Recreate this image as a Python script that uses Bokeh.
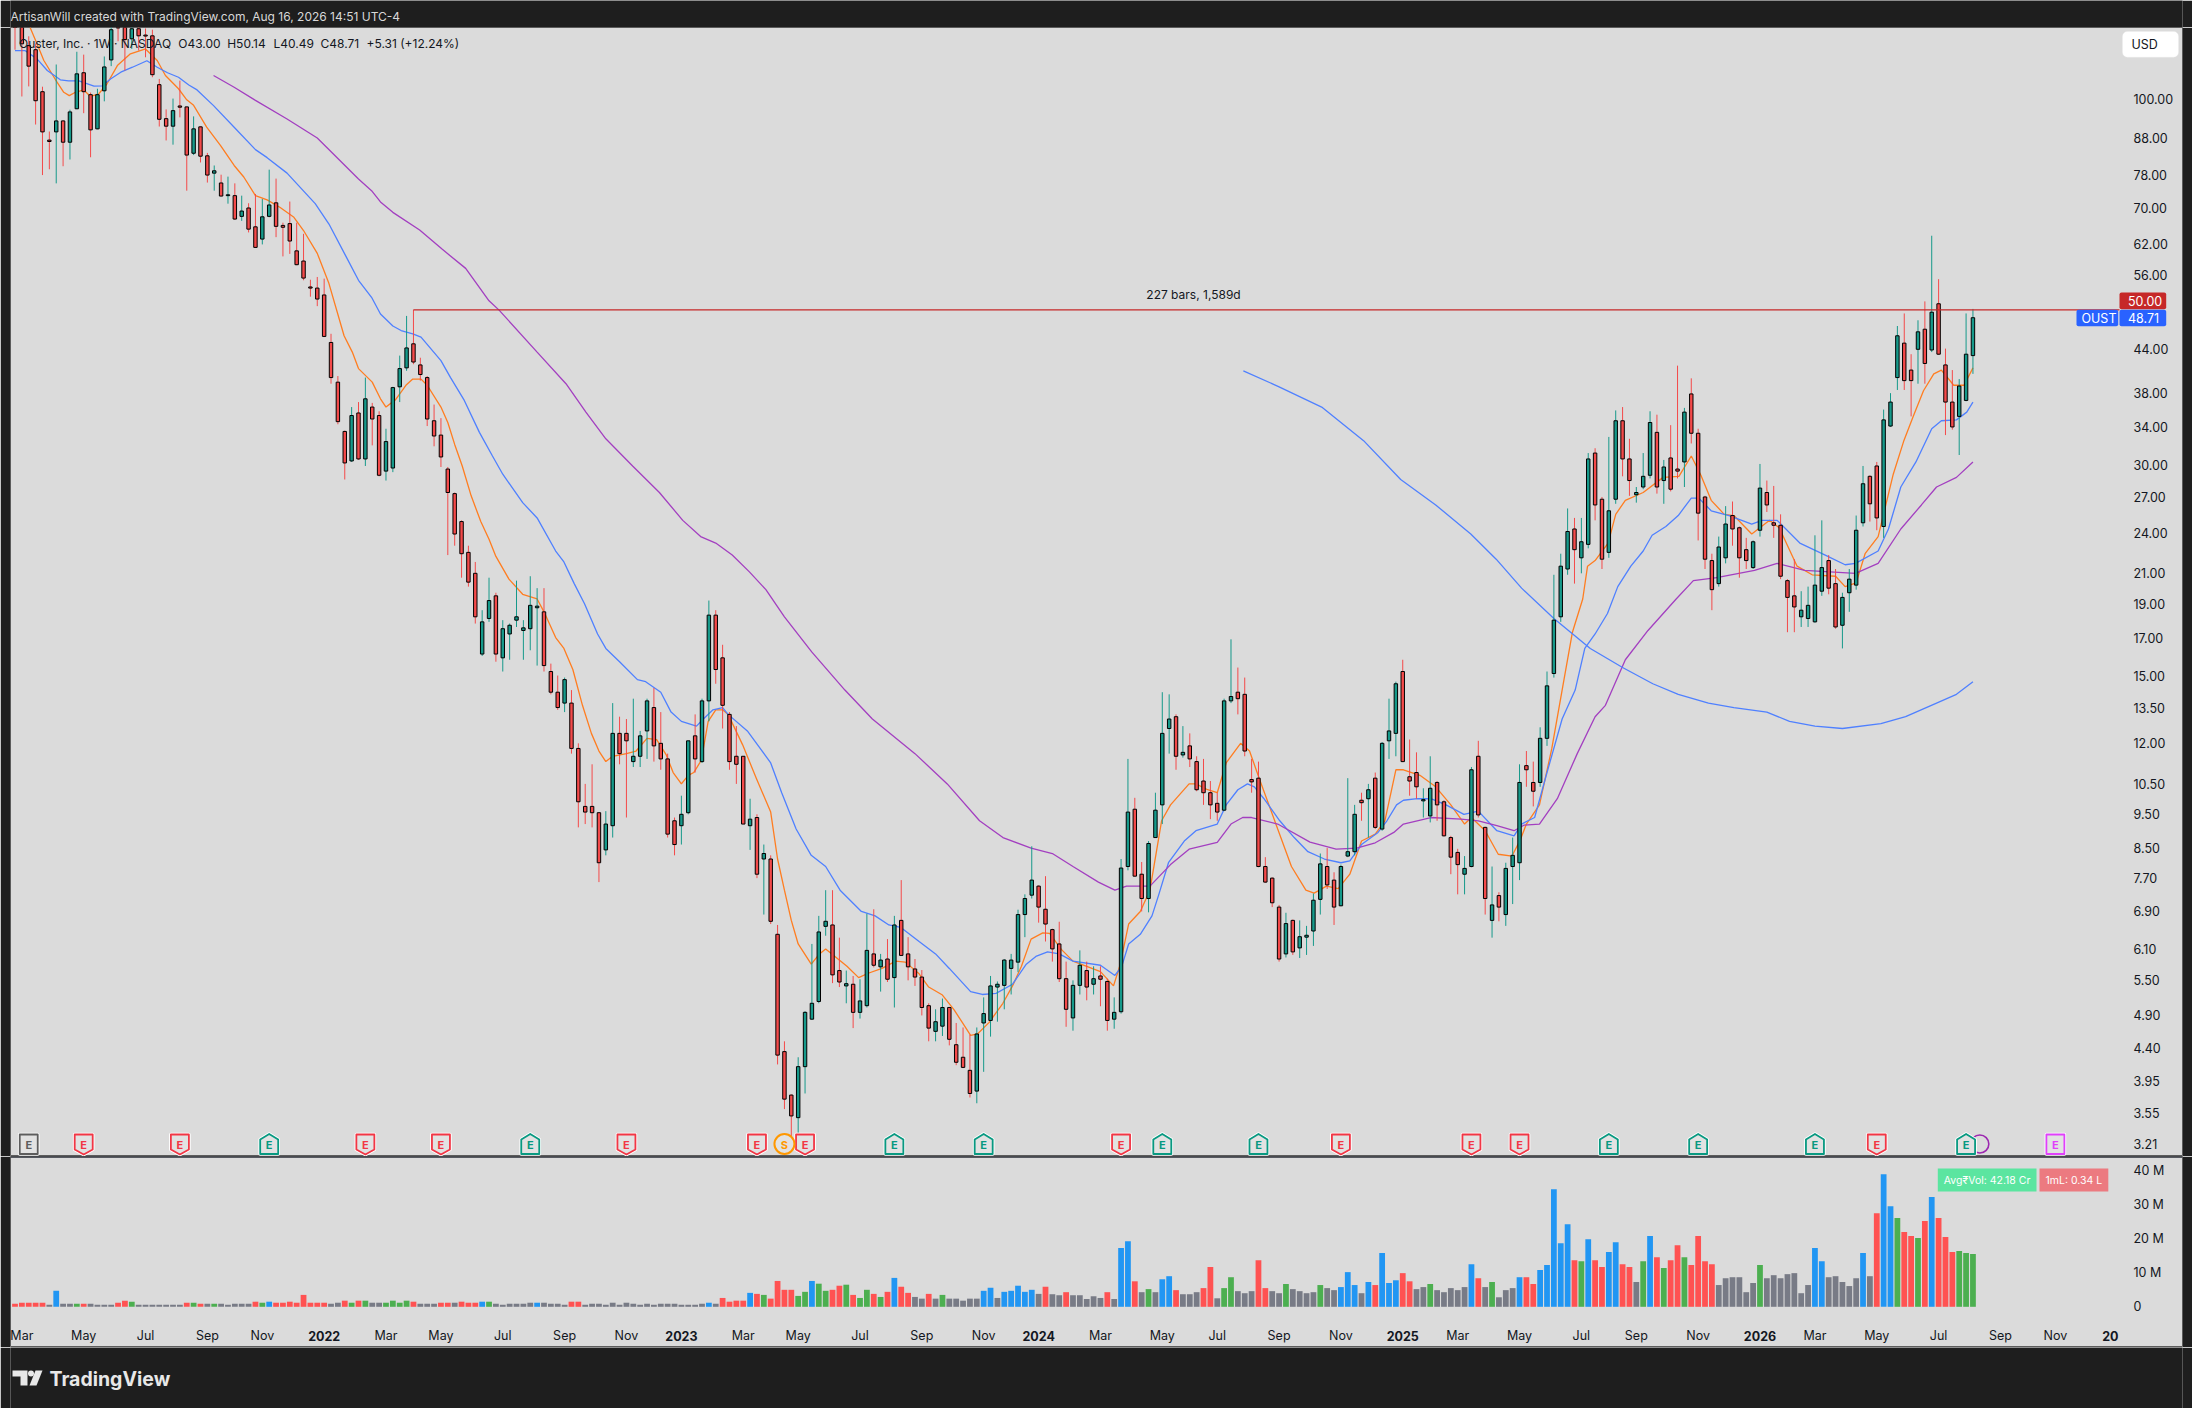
from math import exp
from bokeh.plotting import figure
from bokeh.layouts import column
from bokeh.models import (ColumnDataSource, Range1d, FixedTicker, NumeralTickFormatter,
                          Label, BoxAnnotation)
from bokeh.core.properties import value
from bokeh.embed import file_html
from bokeh.resources import INLINE

# ---- weekly candles, [open, high, low, close] ----
ohlc_2021 = [
[140,142,117.7,130],[132,135,100.9,120],[119.3,123,104.3,111.5],[117.7,120.1,92,99.5],[102.5,104.2,77.9,89.8],
[87.4,89.9,79.4,87],[89.8,112.1,75.8,93.1],[93.1,93.3,80.2,86.8],[86.8,96.6,82,95.9],[96.9,116.9,96.8,108.7],
[109.1,115.8,95.5,102.5],[101.5,102.2,82.6,90.4],[90.7,103.5,90.6,101.5],[102.8,115.1,99.3,111.2],[113.8,128,111.5,125.7],
[127,130,121,126.4],[129,132,109.9,121.7],[122,127,118,126.1],[126.1,127,117.4,123.2],[123.5,126.2,114.8,123.1],
[123.2,125.7,107.5,108.4],[104.9,106.9,91.4,93.6],[93.8,96.7,87.3,91.5],[91.5,100.2,86.1,96.3],[97.8,106.3,94.2,97.4],
[97.5,97.6,74,83.2],[83.7,94.5,83.2,90.7],[91.3,91.4,81.2,82.9],[83,83.8,76,77.9],[78.4,80.4,74,79],
[75.9,78,72.6,72.7],[72.8,77.5,70.9,73],[72.8,75.8,67.2,67.4],[68,72.8,67,69.2],[69.9,71,64.5,65.2],
[65.7,73.2,61.3,61.4],[63.1,72,62,67.9],[68,79.3,67.8,70.6],[71.1,77,63.5,65.8],[66,66.6,59.6,65.6],
[66.4,71.4,60.1,62.7],[60.7,66.6,57.9,58],[58.7,64.2,55.1,55.5],[53.9,55.2,52.2,53.7],[53.7,55.7,50.6,51.8],
]
ohlc_2022 = [
[52.5,55.4,45.7,45.8],[44.9,46.2,39.2,40],[39.4,40.2,34.3,34.6],[33.5,33.6,28.6,30.2],[30.4,36.3,30.3,35.3],
[35.6,36.9,30.5,30.6],[30.6,40,29.9,37.3],[36.3,36.8,32,34.9],[35.3,35.8,28.9,29],[29.4,33.8,28.5,32.4],
[29.7,38.8,29.3,38.7],[38.8,43,36.9,41.2],[41.3,49,40.9,44.1],[44.7,50,41.8,42.1],[41.7,42.7,39.6,40.4],
[40,40.2,34.1,34.9],[34.7,36.6,31.9,33],[33.1,35,29.8,30.8],[29.6,29.8,22.3,27.4],[27.3,27.4,23,23.9],
[24.9,25,20.7,22.4],[22.5,23,20.1,20.4],[21,21.8,17.8,18.2],[16.1,18.6,16,17.9],[18.1,20.7,17.9,19.2],
[19.5,19.7,15.7,16.1],[15.9,18,15.2,17.5],[17.2,17.8,15.8,17.7],[18,20.5,17.6,18.2],[17.4,18,15.8,17.55],
[17.5,20.8,16.3,18.9],[18.75,20,15.5,18.85],[18.5,20,15.2,15.5],[15.2,15.6,14.1,14.2],[14.2,15,13.4,13.5],
[13.7,14.9,13.3,14.8],[13.7,14.3,11.6,11.8],[11.8,12,9.1,9.9],[9.75,10.5,9.2,9.57],[9.75,11.2,9.1,9.55],
[9.55,9.56,7.6,8.1],[8.45,9.6,8.3,9.2],[9.15,13.7,8.8,12.4],[12.4,13.1,11.2,11.6],[12.4,13,9.4,12.1],
[11.3,13.9,11.1,11.5],[11.5,12.5,11.1,12.3],[12.5,13.9,11.4,13.8],[13.5,14.4,11.3,11.9],[12,13.3,11,11.4],
[11.4,11.6,8.8,8.9],[9.3,9.4,8.3,8.6],
]
ohlc_2023 = [
[9.15,10.1,8.6,9.5],[9.55,12.1,9.5,12.1],[12.3,13.2,10.9,11.4],[11.3,13.9,11.25,13.8],[13.8,19.2,12.9,18.3],
[18.3,18.6,14.6,15.3],[15.9,16.6,12.6,13.6],[13.2,13.3,11,11.3],[11.5,12.7,10.5,11.2],[11.5,11.5,9.2,9.2],
[9.15,10,8.45,9.35],[9.4,9.5,7.7,7.8],[8.2,8.6,6.83,8.35],[8.2,8.3,6.62,6.68],[6.4,6.6,4.17,4.3],
[4.35,4.5,3.6,3.72],[3.77,3.78,3.29,3.52],[3.5,4.27,3.33,4.14],[4.14,4.97,3.79,4.95],[4.84,6.2,4.83,5.1],
[5.13,6.8,5.1,6.45],[6.57,7.4,6.37,6.68],[6.6,7.4,5.45,5.6],[5.68,6.33,5.38,5.47],[5.4,5.68,5.1,5.44],
[5.43,5.58,4.7,4.95],[4.95,5.52,4.85,5.14],[5.06,6.85,5.03,6.07],[6,6.95,5.74,5.78],[5.75,6,5.3,5.88],
[5.9,6.3,5.47,5.52],[5.55,6.8,5.03,6.6],[6.7,7.65,5.96,5.97],[6,6.34,5.5,5.75],[5.71,5.9,5.4,5.56],
[5.56,5.69,4.9,5.03],[5.06,5.1,4.5,4.7],[4.65,5,4.5,4.8],[4.73,5.18,4.58,5.03],[5.03,5.04,4.44,4.53],
[4.45,4.78,4.16,4.2],[4.27,4.71,4.12,4.13],[4.09,4.6,3.74,3.79],[3.82,4.71,3.67,4.61],[4.78,5.2,4.07,4.93],
[4.82,5.58,4.57,5.4],[5.38,5.48,4.8,5.43],[5.41,5.9,5,5.88],[5.72,6,5.25,5.88],[5.84,6.94,5.65,6.83],
[6.83,7.3,6.34,7.2],[7.28,8.55,7.2,7.65],
]
ohlc_2024 = [
[7.5,7.52,6.65,7],[6.95,7.75,6.25,6.62],[6.5,6.52,5.85,6.1],[6.2,6.67,5.47,5.53],[5.53,5.85,4.72,5],
[4.86,5.5,4.66,5.41],[5.41,6.07,5.25,5.78],[5.68,5.85,5.15,5.38],[5.43,5.76,5.25,5.53],[5.58,5.76,5.05,5.52],
[5.48,5.53,4.66,4.82],[4.84,5.2,4.69,4.95],[4.96,8.2,4.93,7.96],[8,11.4,7.9,9.57],[9.66,10.03,7.74,7.75],
[7.8,8.12,6.9,7.2],[7.2,8.7,6.88,8.63],[8.8,10.2,8.79,9.63],[9.8,14.2,9.2,12.4],[12.6,14.1,11.6,13],
[13.1,13.2,11,11.5],[11.55,12.7,11.45,11.65],[11.9,12.4,11.1,11.4],[11.3,11.5,10.25,10.3],[10.6,11.4,9.8,10.2],
[10.2,10.6,9.35,9.8],[9.85,10.2,9.3,9.57],[9.63,13.9,9.6,13.8],[13.8,16.9,13.7,14],[14.2,15.4,13.2,13.9],
[14.1,14.9,11.5,11.7],[10.65,11.4,10.2,10.57],[10.7,11.3,7.98,8.0],[8.0,8.25,7.58,7.6],[7.7,7.72,7,7.1],
[7,7.05,5.85,5.9],[6,6.87,5.93,6.63],[6.7,6.72,5.98,6.04],[6.12,6.7,5.92,6.35],[6.34,6.58,5.98,6.38],
[6.47,7.32,6.16,7.16],[7.18,8.35,6.83,8.07],[8,8.5,7.43,7.53],[7.65,7.85,6.6,7],[7.03,8.05,7.02,8],
[8.28,10.7,8.25,8.4],[8.4,9.8,8.3,9.5],[9.95,10.2,9.3,9.87],[10,10.5,8.8,10.3],[10.7,10.9,9.05,9.1],
[9.05,12.05,9,12],[12.1,13.9,11.4,12.5],
]
ohlc_2025 = [
[12.4,14.7,11.5,14.6],[15.2,15.8,11.28,11.3],[10.75,12.15,10.1,10.6],[10.9,11.65,10,10.4],[9.93,10.35,9.4,9.97],
[9.45,11.5,9.25,10.35],[10.55,10.6,9.3,9.8],[9.9,9.95,8.83,8.85],[8.8,8.85,7.8,8.25],[8.38,8.48,7.3,8.05],
[7.8,8.28,7.3,7.95],[8,11.1,7.98,11],[11.5,12.1,9.4,9.48],[9.1,9.12,6.83,7.2],[6.7,8,6.33,7.05],
[7.27,7.35,6.68,7],[6.83,8.1,6.58,7.95],[8,8.8,7.07,8.3],[8.1,11.2,7.65,10.55],[11.15,11.7,10.4,11],
[10.55,11.3,9.75,10.25],[10.55,12.65,10.4,12.2],[12.2,15.2,11.9,14.5],[15.1,20.9,14.9,18],[18.2,22.4,17.9,21.5],
[21.3,26,20.9,24.1],[24.3,25.2,20.3,22.7],[22.1,25.2,21,23.3],[23.1,31.2,22.8,30.6],[31.2,31.7,25,26.3],
[26.8,27,21.3,22],[22.5,32.9,22.1,25.8],[26.8,35.9,26.4,34.7],[34.7,36.3,28.9,30.6],[30.6,32.7,27.1,28.5],
[27.2,27.9,26.5,27.4],[27.9,31.2,27.7,28.9],[29,35.8,28.7,34.5],[33.4,35.4,27.3,27.9],[28.5,30.5,26.4,29.8],
[30.7,34.2,27.5,27.7],[29.6,41.6,28.7,29.4],[30.3,36.2,27.9,35.7],[37.9,39.9,32.2,33.3],[33.3,33.8,23.4,25.6],
[27,27.1,21.3,22],[21.9,22.4,18.6,19.9],[20.3,23.7,20.1,22.9],[22.1,26.2,21.7,24.7],[25.4,26.6,23,24.3],
[24.4,24.5,20.7,22.1],[22.7,23.6,21.3,21.9],
]
ohlc_2026 = [
[21.4,23.4,21.3,23.3],[24.2,30.1,23.7,27.8],[27.4,28.5,25.7,26.3],[24.8,28,23.6,24.6],[24.6,25.5,20.6,20.8],
[20.5,20.6,17.3,19.4],[19.5,22,17.3,18.8],[18.2,19.8,17.6,18.6],[18.1,20.1,17.6,18.9],[17.9,23.8,17.85,20.2],
[19.8,25,19.5,21.4],[21.9,22.3,19.6,20],[20.3,21.3,17.5,17.6],[17.7,19.7,16.4,19.4],[19.7,21.3,18.5,20.6],
[20.2,25.4,19.9,24.2],[24.8,29.9,24.5,28.2],[28.9,29,24.9,26.4],[29.9,30.3,24.2,25.2],[24.5,36,23.6,34.8],
[34.1,38,34,36.9],[40,47.4,38.4,45.9],[44.8,49.4,38.4,39.6],[41,43.2,35.2,39.6],[43.9,48.3,39.2,46.5],
[46.9,51.4,39.2,41.9],[43.8,63.8,43.5,49.6],[51,55.3,43.1,43.2],[41.7,44,33.1,36.9],[36.9,41,33.7,34],
[35.2,39.8,31,38.9],[37.1,49.4,37,43.2],[43.00,50.14,40.49,48.71],
]

# ---- moving averages: bar number and price ----
orange_idx = [2.2,3.2,4.2,5.9,7.1,7.9,8.8,10,11,12.2,13.4,14.9,16.8,19,20.7,21.9,23.8,25,26,27.9,29.9,31.9,33.3,35,36.7,38.6,40.6,42,44,45.7,47.9,49.1,50,52,53.2,54,55.4,56.9,57.9,59.1,60,62,63,64,65.1,66.4,67.8,69,70,71.9,73.9,76,77,78.7,79.9,81.2,82.6,83.9,85,86,87,89,90.4,92,93.4,94.8,95.8,97,98,98.8,99.9,100.9,102,103,103.8,105.9,107.9,110,111,112,113,114,115.9,117.1,118,119.8,121.1,122.8,124.2,126.2,128.2,129.6,131.6,133,135,136.7,138,139.1,140.1,141.8,143.8,145.2,146.5,147.9,149.6,150.6,152.3,154,156,158,159.9,160.8,162.1,163.8,165.2,166.9,168.2,170.9,171.9,173.6,175,176.3,178.4,179.7,181.1,183.8,185.8,187.9,189.1,190.9,192.6,194.3,196,198,199.4,201,202.1,204.5,206.8,209,211,212,214,215.9,217.9,219.1,220,221.9,223.7,225.2,226.7,228.2,228.9,230,231.9,233,234.4,237,239.9,242.2,244,245.4,246.9,248.8,250.2,252.8,255.4,256.8,259.4,261.6,265,266.4,268,269.3,271.2,273.4,274.9,276.3,277.8,279.3,280.4,282.2,283.7,285]
orange_val = [126.6,120,113.6,106.6,102.3,101.2,102.3,103.1,100.9,101.8,105.2,111.7,116.1,118,113.6,108.1,103.5,99.8,98,91.2,85.9,80.4,77.4,72.8,71.8,70,67.8,64.9,60.2,54.5,45.9,43.5,41.2,39.4,37.3,36.3,37.2,39,39.8,39.8,39,36.3,34.5,32.1,29.9,27.1,24.9,23.5,22.2,20.6,19.6,19.3,18.5,17,16.4,15.3,13.6,12.4,11.7,11.3,11.5,11.6,11.7,12.2,12.15,11.55,10.9,10.5,10.8,10.9,11.35,12.9,13.4,13.4,13.2,11.95,10.7,9.57,8.2,7.4,6.7,6.2,5.8,6.0,6.1,5.9,5.76,5.55,5.63,5.72,5.86,5.84,5.62,5.38,5.24,4.99,4.77,4.59,4.61,4.79,5.1,5.4,5.76,6.3,6.43,6.42,6.09,5.86,5.76,5.66,5.4,5.76,6.62,6.9,7.4,9.3,9.8,10.5,10.5,10.3,10.2,11.25,12.0,11.7,10.7,9.05,8.0,7.4,7.33,7.5,7.44,7.8,8.7,8.9,9.3,11.0,11.0,10.8,10.4,9.8,9.2,9.4,9.0,8.33,8.28,8.73,9.2,9.8,11.8,14.3,17.3,19.3,21.5,21.9,23.2,25.5,26.7,27.4,28.8,28.9,30.9,29,26.7,25.5,25.4,23.9,25,24.4,21.5,20.9,20.8,20.1,20.35,22.4,23.7,29.1,32.4,35.2,38.3,40.5,41,39,39,41.3]

blue_idx = [0,1.5,3.2,4.7,6.6,7.8,9.3,11.5,12.7,13.9,15.4,17.1,19.2,20.7,22.2,23.8,25.3,26.5,28.9,31.9,35,36.7,39.6,43.7,45.7,48.1,50,51.9,53.2,55,56.2,57.9,59.1,62,63.4,65.4,67.6,69.5,71,73.9,76,78.7,79.9,81.4,82.9,84.8,86,88,90.6,91.8,94,95.5,97,99.2,100.2,101.6,103,103.8,106.6,108.2,110,111.6,113.7,115.9,118,120.1,123.2,125.2,127.2,128.9,131.6,134,136,139.1,140.8,142.8,145.2,147.2,148.6,150.3,152,154,158,160.1,161.1,162.1,163.8,165.5,166.5,167.9,170.2,171.9,175,176.3,178,179.4,180.4,181.8,184.1,186.2,188.2,190.6,193,194.3,196,198.4,199.7,201.1,202.1,204.1,206.1,208.3,210.9,213,215.7,218.2,219.3,221.2,223,225.2,227.1,228.5,230,231.8,233.3,235.2,237,238.3,240.3,242.1,244,245.1,246.9,249.5,252.8,254.3,256.5,259.8,263.5,266.4,267.9,271.2,272.7,274.5,276.7,279,280.4,282.6,284.1,285]
blue_val = [117.3,117.3,114.2,109.9,106.6,106.2,106.2,104.4,104.5,106.9,109.3,111.1,113.5,111.1,109.1,107.5,104.8,103.1,97.9,91.2,84.7,82.5,78.4,70.9,66.3,59.8,55.1,52.1,49.3,47.4,46.7,46.2,45.7,42.3,40,37.1,33.4,30.9,29.1,26.5,25.2,22.6,21.8,20.3,19,17.2,16.4,15.7,14.8,14.7,14.2,13.3,12.9,12.7,13,13.4,13.5,13.2,12.5,11.9,11.25,10.2,9.05,8.3,8.0,7.4,6.9,6.8,6.6,6.55,6.25,6.0,5.72,5.3,5.25,5.27,5.43,5.8,5.95,6.04,6.0,5.86,5.78,5.59,5.76,6.2,6.4,6.8,7.3,8.1,8.7,9.0,9.2,9.8,10.3,10.5,10.4,10,9.3,8.8,8.4,8.2,8.1,8.15,8.6,8.95,9.3,9.8,9.95,10.0,10.0,9.8,9.5,9.6,9.0,8.85,9.2,9.4,10.9,13.0,14.3,16.4,17.2,18.4,20.1,21.5,22.6,23.8,24.5,25.4,26.9,26.9,25.8,25.4,24.7,25.0,25,23.2,22.3,21.6,21.7,22.6,24.3,27.9,30.3,33.8,34.7,34.8,35.7,36.9]

purple_idx = [28.9,31.9,35,39.6,44,50,51.9,53.2,55,58.9,62.2,65.6,69,70.5,76,80.2,83.1,86,89.9,93.8,97.2,99.8,102,104.4,106.9,109.3,112,116,120.8,124.8,131,135.7,140.4,143.8,147.9,151,154,157.7,160.1,161.8,165.2,168.2,170.9,175,177,178.7,180,183.8,188.5,192.3,195.3,198,200.7,202.1,206.1,210.5,213,215.7,218.2,219.7,221.9,224.5,227.4,230,231.5,234.4,237.7,241.8,244.3,247.7,253.2,256.5,260.5,264.2,267.9,271.2,274.5,277.5,279.7,282.6,285]
purple_val = [108.1,104,99.6,93.7,88,76.9,74,71.3,68.9,65,61,57.3,51.5,49.9,43.5,39.2,35.7,32.7,29.9,27.4,25,23.7,23.2,22.3,21.1,19.9,18.2,16.2,14.3,13,11.6,10.5,9.3,8.8,8.5,8.35,8.0,7.6,7.4,7.5,7.5,8.05,8.47,8.66,9.2,9.4,9.4,9.2,8.67,8.47,8.5,8.65,8.95,9.2,9.4,9.35,9.3,9.15,9.0,9.17,9.2,10,11.6,13.1,13.6,15.8,17.4,19.3,20.5,20.7,21.2,21.7,21.2,21.1,21,21.7,24.3,26.3,27.9,28.8,30.3]

long_idx = [178.8,184,190.2,196.3,201.7,206.8,211.9,215.6,219.3,224,229.3,234,238.4,242.1,246.5,250.2,255,258.3,262,266,271.6,275.2,279.7,282.6,285]
long_val = [40.9,38.8,36.3,32.5,28.6,26.3,23.9,22,20,18.1,16.4,15.4,14.6,14.1,13.7,13.5,13.3,12.9,12.7,12.6,12.8,13.1,13.7,14.1,14.7]

# ---- volume in millions, colour code per bar (r g b k) ----
vol_a = [.9,1.2,1.2,1.2,1.2,.6,4.7,.9,.9,.9,.9,.9,.6,.6,.6,1.2,1.8,1.5,.6,.6,.6,.6,.6,.6,.6,1.2,1.2,.9,.9,.9,.9,.6,.9,.9,.9,1.5,1.2,1.5,1.2,1.2,1.5,1.2,3.5,1.2,1.2,1.2,.9,1.2,1.8,1.2]
col_a = "rrrrrkbkkg" "rkkkkrrgkk" "kkkkkrgrkg" "kkkkkrgbrr" "rrrrrrkkrg"
vol_b = [1.8,1.8,1.2,1.2,1.2,1.8,1.2,1.8,1.5,.9,.9,.9,1.2,1.2,1.2,1.5,1.2,1.2,1.5,1.5,.9,.6,.9,.9,.9,1.2,1.2,1.2,.9,.9,.6,1.5,1.5,.6,.9,.9,.6,1.2,.6,1.2,.9,.6,.9,.6,.9,.9,.9,.6,.6,.6]
col_b = "rgkkggggrk" "kkrrkrrrbg" "kkkkkkbkkk" "krrkkkkkkk" "kkkkkkkkkk"
vol_c = [.9,1.2,.9,2.6,1.5,1.8,1.8,4.1,3.8,3.5,2.4,7.6,5,5,3.2,4.4,7.6,6.8,4.7,5,6.2,6.5,3.5,2.6,5,3.8,2.9,4.4,8.5,5.9,4.1,2.9,2.4,3.8,2.4,3.5,2.4,2.4,1.8,2.4,2.4,4.7,5.6,2.6,4.4,4.7,6.2,4.4,5,3.8]
col_c = "kbkrrrrbrg" "rrrrggbggr" "rgrggrgrbr" "rkkrkgkkkk" "kbbkbbbbbk"
vol_d = [5.9,3.7,3.4,4.3,3.4,3.4,2.3,3.1,2.6,4.3,2.3,17.3,19.3,7.5,4.3,5.2,4.3,8.1,9,4.9,3.7,3.7,4.3,5.5,11.7,2.5,5.5,8.7,4.6,4,4.6,13.7,5.5,4.6,4,6.7,5.2,4.6,4,4.3,6.4,5.5,4.9,5.8,10.2,6.4,4,7.3,6.4,15.8]
col_d = "rkkrkkkkkr" "kbbrkgkbbr" "kkkrrkggkk" "krrkkgkkkk" "gkkbbbkbrb"
vol_e = [7,7.8,9.9,7.5,5.2,5.8,6.7,4.9,4.3,5.5,4.9,5.8,12.5,8.4,5.8,7.3,2.8,4.9,5.5,8.7,8.7,6.7,10.8,12.3,34.6,18.7,24.3,13.7,13.4,19.9,13.7,11.7,16.1,19,12.5,11.7,7.3,13.4,20.8,14.6,11.4,13.7,18.1,14.6,12.3,20.8,13.4,12.5,6.4,8.4]
col_e = "bbrrkkgkkk" "kkbrkgkkkb" "rrbbbbbrgb" "rrbbrrkgbr" "grrgrrrrkk"
vol_f = [8.7,8.7,4.3,7,12.3,8.4,9.3,8.4,9.6,9.9,4,6.4,17.3,13.4,8.7,9,7.3,6.1,8.4,15.8,9,27.5,39,29.6,26.1,22,20.8,20.2,25.2,32.3,26.1,20.5,16.1,16.4,15.8,15.5]
col_f = "kkkkgkkkkk" "kkbbkkkkkb" "krbbgrrgrb" "rrrggg"

# ---- axes ----
price_ticks = [100,88,78,70,62,56,44,38,34,30,27,24,21,19,17,15,13.5,12,10.5,9.5,8.5,7.7,6.9,6.1,5.5,4.9,4.4,3.95,3.55,3.21]
volume_ticks = {0:"0",10:"10 M",20:"20 M",30:"30 M",40:"40 M"}
month_ticks = {1:"Mar",10:"May",19:"Jul",28:"Sep",36:"Nov",54:"Mar",62:"May",71:"Jul",80:"Sep",89:"Nov",
               106:"Mar",114:"May",123:"Jul",132:"Sep",141:"Nov",158:"Mar",167:"May",175:"Jul",184:"Sep",193:"Nov",
               210:"Mar",219:"May",228:"Jul",236:"Sep",245:"Nov",262:"Mar",271:"May",280:"Jul",289:"Sep",297:"Nov"}
year_ticks = {45:"2022",97:"2023",149:"2024",202:"2025",254:"2026",305:"20"}

# ---- event flags: bar number and kind ----
earn_down = [10,24,51,62,89,108,115,161,193,212,219,271]
earn_up = [37,75,128,141,167,181,232,245,262,284]
earn_grey = [2]
split_bar = [112]
future_bar = [297]
dividend_bar = [286]

# ---- legend line pieces ----
legend_name = "Ouster, Inc. \u00b7 1W \u00b7 NASDAQ"
legend_open = "O43.00"
legend_high = "H50.14"
legend_low = "L40.49"
legend_close = "C48.71"
legend_change = "+5.31 (+12.24%)"

# ---- colours ----
BG, PANE = "#1e1e1e", "#dbdbdb"
UP, DOWN = "#16998a", "#f44a4a"
VOLC = {"r":"#ff5252","g":"#4caf50","b":"#2196f3","k":"#787b86"}
FONT = "Inter"

rows = ohlc_2021 + ohlc_2022 + ohlc_2023 + ohlc_2024 + ohlc_2025 + ohlc_2026
n = len(rows)
vols = vol_a + vol_b + vol_c + vol_d + vol_e + vol_f
vcols = col_a + col_b + col_c + col_d + col_e + col_f

# calibration of the two scales against window pixels (chrome placement only)
BAR0, STEP = 14.5, 6.87
P100Y, PX_LN = 98.7, 303.8
def X(px): return (px - BAR0) / STEP
def Y(py): return 100 * exp((P100Y - py) / PX_LN)
VBASE, VPX = 1306.3, 3.4
def V(py): return (VBASE - py) / VPX

# ---- header strip (its frame lines up with the panes: 10..2182) ----
h = figure(width=2192, height=27, x_range=Range1d(10, 2182), y_range=Range1d(27, 0), x_axis_location=None,
           y_axis_location=None, output_backend="svg", toolbar_location=None, min_border=0,
           background_fill_color=BG, border_fill_color=BG, outline_line_color=None)
h.grid.visible = False
h.text([10], [15.5], text=["ArtisanWill created with TradingView.com, Aug 16, 2026 14:51 UTC-4"], text_font=value(FONT),
       text_font_size="12px", text_color="#d8d8d8", text_baseline="middle")

# ---- price pane ----
xr = Range1d(X(10), X(2182))
p = figure(width=2192, height=1129, frame_width=2172, frame_height=1129, x_range=xr,
           y_range=Range1d(Y(1156), Y(27)), y_axis_type="log", y_axis_location="right",
           x_axis_location=None, output_backend="svg", toolbar_location=None,
           min_border_left=10, min_border_right=10, min_border_top=0, min_border_bottom=0,
           background_fill_color=PANE, border_fill_color=BG, outline_line_color="#5c5c5c")
p.grid.visible = False
ax = p.yaxis[0]
ax.ticker = FixedTicker(ticks=price_ticks)
ax.formatter = NumeralTickFormatter(format="0.00")
ax.axis_line_color = None
ax.major_tick_line_color = None
ax.minor_tick_line_color = None
ax.major_label_standoff = -55
ax.major_label_text_font = FONT
ax.major_label_text_font_size = "12.5px"
ax.major_label_text_color = "#131722"

p.line(orange_idx, orange_val, line_color="#ff7d20", line_width=1.3)
p.line(blue_idx, blue_val, line_color="#4f80ff", line_width=1.3)
p.line(purple_idx, purple_val, line_color="#a33fc0", line_width=1.3)
p.line(long_idx, long_val, line_color="#4f80ff", line_width=1.3)

src = ColumnDataSource(dict(
    x=list(range(n)),
    o=[r[0] for r in rows], h=[r[1] for r in rows], l=[r[2] for r in rows], c=[r[3] for r in rows],
    top=[max(r[0], r[3]) for r in rows], bot=[min(r[0], r[3]) for r in rows],
    col=[UP if r[3] >= r[0] else DOWN for r in rows]))
p.segment("x", "h", "x", "l", source=src, line_color="col", line_width=1)
p.vbar("x", 0.5, "top", "bot", source=src, fill_color="col", line_color="#000000", line_width=1.0)

# measured range line
p.segment([58], [50], [X(2119)], [50], line_color="#c62828", line_width=1.2)
p.text([X(1193)], [Y(293.5)], text=["227 bars, 1,589d"], text_font=value(FONT), text_font_size="12px",
       text_color="#131722", text_align="center", text_baseline="middle")

# event flags
def flags(bars, kind, color):
    dx = 9 / STEP
    xs, ys = [], []
    for b in bars:
        if kind == "down":
            xs.append([b-dx, b+dx, b+dx, b, b-dx])
            ys.append([Y(1134), Y(1134), Y(1149), Y(1154), Y(1149)])
        elif kind == "up":
            xs.append([b-dx, b, b+dx, b+dx, b-dx])
            ys.append([Y(1139), Y(1133.5), Y(1139), Y(1153.5), Y(1153.5)])
        else:
            xs.append([b-dx, b+dx, b+dx, b-dx])
            ys.append([Y(1134), Y(1134), Y(1153.5), Y(1153.5)])
    p.patches(xs, ys, fill_color=None, line_color="#ffffff", line_width=3.6, line_join="round")
    p.patches(xs, ys, fill_color="#e2e2e2", line_color=color, line_width=1.8, line_join="round")
    p.text(bars, [Y(1144)]*len(bars), text=["E"]*len(bars), text_color=color, text_font=value(FONT),
           text_font_size="11px", text_font_style="bold", text_align="center", text_baseline="middle")

p.circle(dividend_bar, [Y(1143.5)], radius=9/STEP, fill_color=None, line_color="#9c27b0", line_width=1.6)
flags(earn_down, "down", "#f23645")
flags(earn_up, "up", "#089981")
flags(earn_grey, "box", "#5d5d5d")
flags(future_bar, "box", "#e040fb")
p.scatter(split_bar, [Y(1143.5)], size=20, marker="circle", fill_color="#e2e2e2", line_color="#ff9800", line_width=2)
p.text(split_bar, [Y(1144)], text=["S"], text_color="#ff9800", text_font=value(FONT), text_font_size="11px",
       text_font_style="bold", text_align="center", text_baseline="middle")

def label(fig, x, y, txt, color, size, align="left", style="normal", font=FONT):
    fig.add_layout(Label(x=x, y=y, text=txt, text_color=color, text_font=font, text_font_size=size,
                         text_align=align, text_baseline="middle", text_font_style=style))

for lx, txt in [(18.5, legend_name), (177.7, legend_open), (226.7, legend_high), (273, legend_low),
                (320, legend_close), (366, legend_change)]:
    label(p, X(lx), Y(42.5), txt, "#131722", "12px")

p.add_layout(BoxAnnotation(left=X(2122), right=X(2178), top=Y(31), bottom=Y(56.7), fill_color="#ffffff",
                           fill_alpha=1, line_color="#eeeeee", border_radius=5))
label(p, X(2131), Y(43.7), "USD", "#131722", "12.5px")
p.add_layout(BoxAnnotation(left=X(2119), right=X(2165.7), top=Y(292), bottom=Y(308.8), fill_color="#c62828",
                           fill_alpha=1, line_color=None, border_radius=2))
label(p, X(2127.5), Y(300.5), "50.00", "#ffffff", "12.5px")
p.add_layout(BoxAnnotation(left=X(2119), right=X(2165.7), top=Y(309.3), bottom=Y(325.7), fill_color="#2962ff",
                           fill_alpha=1, line_color=None, border_radius=2))
label(p, X(2127.5), Y(317.7), "48.71", "#ffffff", "12.5px")
p.add_layout(BoxAnnotation(left=X(2076), right=X(2117.7), top=Y(309.3), bottom=Y(325.7), fill_color="#2962ff",
                           fill_alpha=1, line_color=None, border_radius=2))
label(p, X(2081), Y(317.7), "OUST", "#ffffff", "12.5px")

# ---- volume pane ----
q = figure(width=2192, height=191, frame_width=2172, frame_height=191, x_range=xr,
           y_range=Range1d(V(1347), V(1156)), y_axis_location="right", output_backend="svg",
           toolbar_location=None, min_border_left=10, min_border_right=10, min_border_top=0, min_border_bottom=0,
           background_fill_color=PANE, border_fill_color=BG, outline_line_color="#5c5c5c")
q.grid.visible = False
q.vbar(list(range(n)), 0.84, vols, 0, fill_color=[VOLC[c] for c in vcols], line_color=None)
q.segment([X(10)], [V(1156.6)], [X(2182)], [V(1156.6)], line_color="#2a2e39", line_width=1.5)

ay = q.yaxis[0]
ay.ticker = FixedTicker(ticks=list(volume_ticks))
ay.major_label_overrides = volume_ticks
ay.axis_line_color = None
ay.major_tick_line_color = None
ay.minor_tick_line_color = None
ay.major_label_standoff = -55
ay.major_label_text_font = FONT
ay.major_label_text_font_size = "12.5px"
ay.major_label_text_color = "#131722"

am = q.xaxis[0]
am.ticker = FixedTicker(ticks=list(month_ticks))
am.major_label_overrides = month_ticks
am.axis_line_color = None
am.major_tick_line_color = None
am.minor_tick_line_color = None
am.major_label_standoff = -26
am.major_label_text_font = FONT
am.major_label_text_font_size = "12.5px"
am.major_label_text_color = "#131722"
q.text(list(year_ticks), [V(1335)]*len(year_ticks), text=list(year_ticks.values()), text_font=value(FONT),
       text_font_size="12.5px", text_font_style="bold", text_color="#131722", text_align="center", text_baseline="middle")

for left, right, lbl_x, txt, col in [(1937.3, 2036, 1986.6, "Avg\u20b9Vol: 42.18 Cr", "#5be5a0"),
                                     (2039, 2107.8, 2073.4, "1mL: 0.34 L", "#ec7a80")]:
    q.add_layout(BoxAnnotation(left=X(left), right=X(right), top=V(1168), bottom=V(1191), fill_color=col,
                               fill_alpha=1, line_color=None))
    label(q, X(lbl_x), V(1179.5), txt, "#ffffff", "10.5px", align="center")

# ---- footer strip with the TradingView mark ----
f = figure(width=2192, height=61, x_range=Range1d(10, 2182), y_range=Range1d(1408, 1347), x_axis_location=None,
           y_axis_location=None, output_backend="svg", toolbar_location=None, min_border=0,
           background_fill_color=BG, border_fill_color=BG, outline_line_color=None)
f.grid.visible = False
f.patches([[12, 27, 27, 20, 20, 12], [35, 42, 36, 29]],
          [[1370, 1370, 1385, 1385, 1376, 1376], [1370, 1370, 1385, 1385]], fill_color="#e8e8e8", line_color=None)
f.circle([30.5], [1373], radius=3, fill_color="#e8e8e8", line_color=None)
f.text([49], [1378], text=["TradingView"], text_font=value(FONT), text_font_size="19.5px", text_font_style="bold",
       text_color="#e8e8e8", text_baseline="middle")

layout = column(h, p, q, f, spacing=0)
open("out.html", "w").write(file_html(layout, INLINE))
